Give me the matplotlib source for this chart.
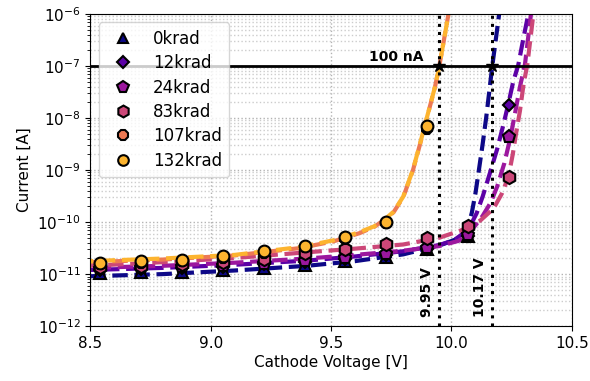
import numpy as np
import matplotlib
matplotlib.use("Agg")
import matplotlib.pyplot as plt

# measured points: cathode voltage [V] and current [A] per dose
voltage = [8.54, 8.71, 8.88, 9.05, 9.22, 9.39, 9.56, 9.73, 9.90, 10.07, 10.24]

labels = ["0krad", "12krad", "24krad", "83krad", "107krad", "132krad"]
markers = ["^", "D", "p", "h", "8", "o"]
marker_sizes = [8, 6.5, 9.5, 9.5, 8.5, 8.5]

i_0krad = [1.05e-11, 1.08e-11, 1.12e-11, 1.2e-11, 1.32e-11, 1.5e-11, 1.75e-11, 2.15e-11, 3.0e-11, 5.3e-11, np.nan]
i_12krad = [1.2e-11, 1.25e-11, 1.3e-11, 1.4e-11, 1.55e-11, 1.7e-11, 1.95e-11, 2.35e-11, 3.1e-11, 5.5e-11, 1.8e-8]
i_24krad = [1.25e-11, 1.3e-11, 1.35e-11, 1.45e-11, 1.6e-11, 1.78e-11, 2.05e-11, 2.45e-11, 3.2e-11, 5.7e-11, 4.3e-9]
i_83krad = [1.4e-11, 1.45e-11, 1.55e-11, 1.7e-11, 1.95e-11, 2.5e-11, 3.0e-11, 3.8e-11, 5.0e-11, 8.3e-11, 7.3e-10]
i_107krad = [1.55e-11, 1.65e-11, 1.75e-11, 2.05e-11, 2.6e-11, 3.3e-11, 4.8e-11, 9.6e-11, 6.3e-9, np.nan, np.nan]
i_132krad = [1.62e-11, 1.75e-11, 1.86e-11, 2.2e-11, 2.75e-11, 3.5e-11, 5.2e-11, 1.02e-10, 7.2e-9, np.nan, np.nan]

# fitted curves (voltage, log10 current)
fit_0krad_v = [8.50, 8.80, 9.10, 9.40, 9.60, 9.80, 9.95, 10.02, 10.05, 10.07, 10.085, 10.10, 10.115, 10.13, 10.145, 10.17, 10.20]
fit_0krad_log = [-11.04, -11.00, -10.93, -10.84, -10.75, -10.62, -10.45, -10.33, -10.22, -10.08, -9.82, -9.45, -8.98, -8.50, -7.98, -7.00, -5.95]

fit_12krad_v = [8.50, 8.80, 9.10, 9.40, 9.60, 9.80, 9.95, 10.01, 10.07, 10.105, 10.13, 10.16, 10.19, 10.215, 10.237, 10.257, 10.278, 10.30, 10.322]
fit_12krad_log = [-10.92, -10.88, -10.82, -10.74, -10.66, -10.56, -10.44, -10.35, -10.15, -9.83, -9.51, -9.06, -8.60, -8.15, -7.72, -7.30, -6.98, -6.45, -5.95]

fit_24krad_v = [8.50, 8.80, 9.10, 9.40, 9.60, 9.80, 9.95, 10.03, 10.07, 10.10, 10.13, 10.164, 10.19, 10.22, 10.244, 10.264, 10.285, 10.306, 10.332]
fit_24krad_log = [-10.88, -10.84, -10.78, -10.70, -10.63, -10.55, -10.46, -10.36, -10.24, -10.06, -9.88, -9.62, -9.32, -8.87, -8.40, -7.92, -7.40, -6.96, -5.95]

fit_83krad_v = [8.50, 8.80, 9.10, 9.40, 9.60, 9.80, 9.95, 10.04, 10.12, 10.175, 10.21, 10.237, 10.255, 10.27, 10.285, 10.30, 10.316, 10.342]
fit_83krad_log = [-10.84, -10.77, -10.69, -10.58, -10.51, -10.43, -10.30, -10.16, -9.97, -9.74, -9.45, -9.13, -8.70, -8.26, -7.86, -7.35, -6.96, -5.95]

fit_107krad_v = [8.50, 8.80, 9.10, 9.37, 9.51, 9.62, 9.68, 9.73, 9.76, 9.80, 9.84, 9.87, 9.90, 9.932, 9.95, 9.99]
fit_107krad_log = [-10.77, -10.72, -10.64, -10.50, -10.37, -10.21, -10.09, -9.93, -9.81, -9.52, -9.01, -8.50, -7.97, -7.40, -7.00, -5.95]

fit_132krad_v = [8.50, 8.80, 9.10, 9.37, 9.51, 9.62, 9.68, 9.73, 9.76, 9.80, 9.84, 9.87, 9.90, 9.932, 9.95, 9.99]
fit_132krad_log = [-10.75, -10.70, -10.63, -10.48, -10.35, -10.19, -10.08, -9.92, -9.80, -9.51, -9.00, -8.49, -7.96, -7.40, -7.00, -5.95]

threshold = 1e-7
v_threshold = [9.95, 10.17]

currents = [i_0krad, i_12krad, i_24krad, i_83krad, i_107krad, i_132krad]
fits = [
    (fit_0krad_v, fit_0krad_log),
    (fit_12krad_v, fit_12krad_log),
    (fit_24krad_v, fit_24krad_log),
    (fit_83krad_v, fit_83krad_log),
    (fit_107krad_v, fit_107krad_log),
    (fit_132krad_v, fit_132krad_log),
]
colors = plt.cm.plasma(np.linspace(0, 1, 7))[:6]
# shift the dash phase a bit per curve so overlapping fits stay visible
dash_offsets = [0, 2, 4, 1, 0, 3]

fig = plt.figure(figsize=(5.9, 3.81), dpi=100)
ax = fig.add_axes([0.153, 0.144, 0.816, 0.819])

for (fv, flog), c, off in zip(fits, colors, dash_offsets):
    ax.plot(fv, 10 ** np.array(flog), color=c, lw=3,
            linestyle=(off, (3.7, 1.6)), zorder=2)

for cur, m, ms, c, lab in zip(currents, markers, marker_sizes, colors, labels):
    ax.plot(voltage, cur, linestyle="none", marker=m, markersize=ms,
            markerfacecolor=c, markeredgecolor="black", markeredgewidth=1.5,
            label=lab, zorder=3)

ax.axhline(threshold, color="black", lw=2, zorder=4)
for v in v_threshold:
    ax.axvline(v, color="black", lw=2.2, linestyle=":", zorder=4)
    ax.plot(v, threshold, marker="*", color="black", markersize=9, zorder=5)
    ax.text(v - 0.05, 1.5e-12, f"{v:.2f} V", rotation=90, ha="center",
            va="bottom", fontsize=10, fontweight="bold", zorder=5)
ax.text(9.885, 1.12e-7, "100 nA", ha="right", va="bottom",
        fontsize=10, fontweight="bold", zorder=5)

ax.set_yscale("log")
ax.set_xlim(8.5, 10.5)
ax.set_ylim(1e-12, 1e-6)
ax.set_xticks([8.5, 9.0, 9.5, 10.0, 10.5])
ax.tick_params(labelsize=11)
ax.grid(True, which="major", linestyle=":", color="0.7", lw=1)
ax.yaxis.grid(True, which="minor", linestyle=":", color="0.8", lw=1)
ax.set_xlabel("Cathode Voltage [V]", fontsize=11, labelpad=3)
ax.set_ylabel("Current [A]", fontsize=11)
ax.legend(loc="upper left", fontsize=12, handletextpad=0.8, labelspacing=0.38,
          borderpad=0.45, markerscale=0.9)

plt.savefig("out.png", dpi=100)
